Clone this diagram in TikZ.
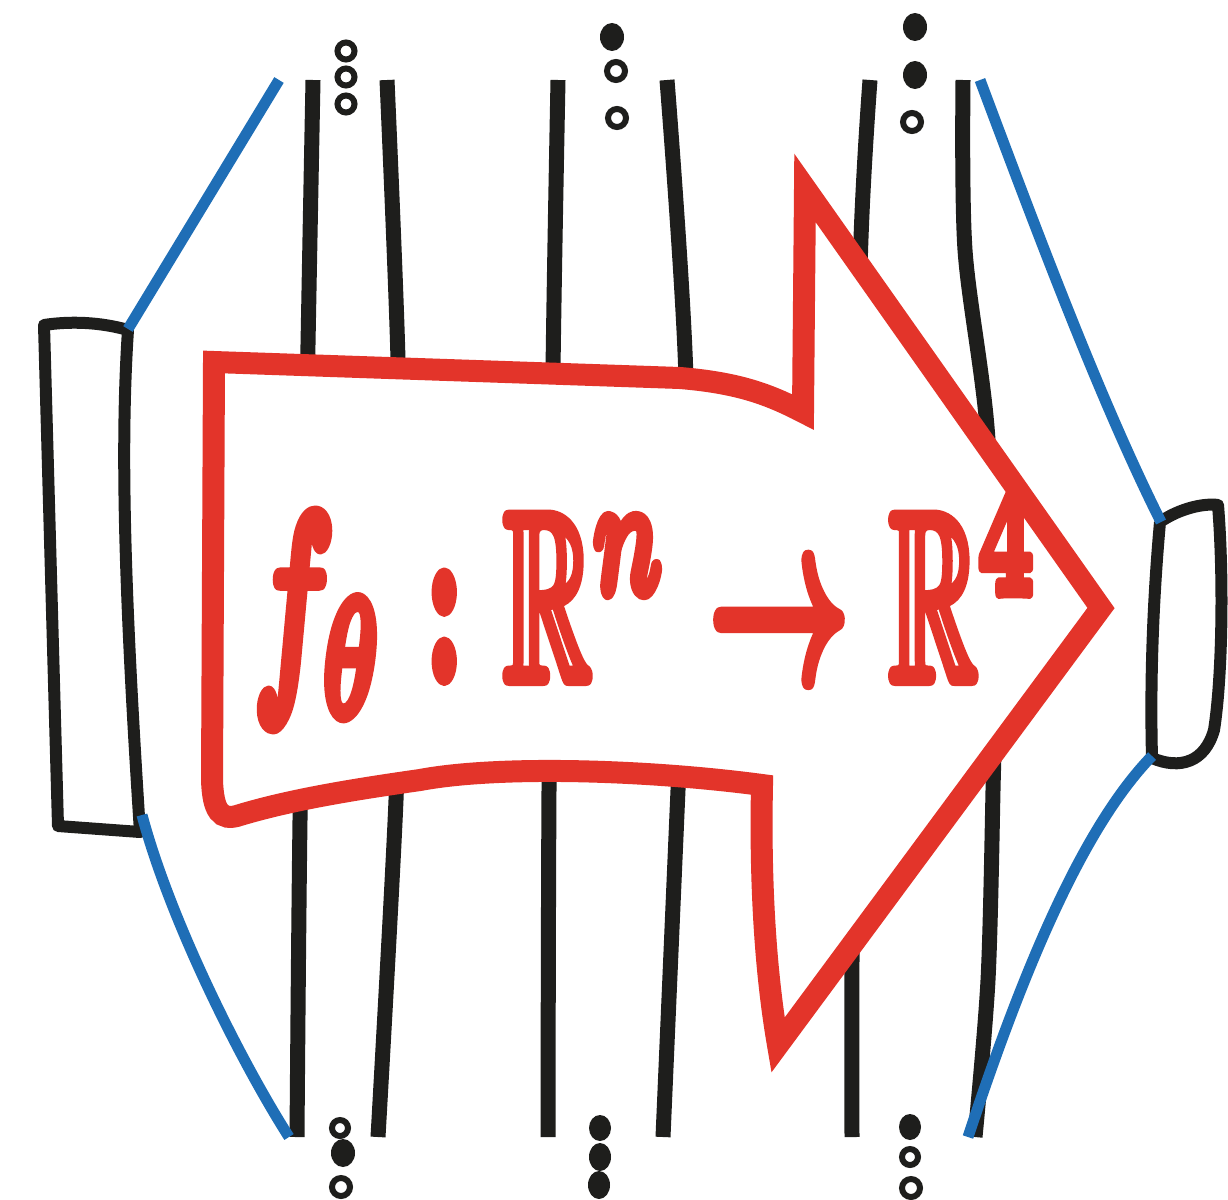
\documentclass[tikz,border=0pt]{standalone}
\usepackage{amssymb}
\definecolor{ink}{HTML}{1E1E1C}
\definecolor{nnblue}{HTML}{1F6EB6}
\definecolor{nnred}{HTML}{E3342A}
\newcommand\strokedtext[1]{\special{pdf:literal direct 2 Tr 0.5 w 1 j}#1\special{pdf:literal direct 0 Tr}}
\begin{document}
\begin{tikzpicture}[x=1pt,y=-1pt,
  layerline/.style={ink,line width=15pt,line cap=butt},
  edge/.style={nnblue,line width=11pt,line cap=butt},
  boxline/.style={ink,line width=12pt,line join=round},
  ring/.style={ink,line width=6pt},
  blob/.style={fill=ink},
  bigarrow/.style={nnred,line width=22pt,line join=miter,fill=white},
  maplabel/.style={text=nnred,inner sep=0pt}]
\useasboundingbox (0,0) rectangle (1228,1199);
% layer lines
\draw[layerline] plot[smooth] coordinates {(313,80) (307,400) (300,820) (297,1137)};
\draw[layerline] plot[smooth] coordinates {(387,80) (398,360) (400,600) (396,800) (378,1137)};
\draw[layerline] plot[smooth] coordinates {(558,80) (553,370) (549,790) (548,1137)};
\draw[layerline] plot[smooth] coordinates {(667,80) (686,380) (682,700) (678,790) (663,1137)};
\draw[layerline] plot[smooth] coordinates {(870,80) (860,270) (855,700) (852,960) (852,1137)};
\draw[layerline] plot[smooth] coordinates {(963,80) (965,250) (988,440) (994,700) (993,790) (988,980) (975,1137)};
% input / output boxes
\coordinate (inTR) at (128,329);
\coordinate (inBR) at (142,815);
\coordinate (outTL) at (1161,522);
\coordinate (outBL) at (1152,756);
\coordinate (topL) at (279,80);
\coordinate (botL) at (289,1137);
\coordinate (topR) at (980,80);
\coordinate (botR) at (968,1137);
\draw[boxline] (44,325) .. controls (70,321) and (100,322) .. (128,330)
  .. controls (120,450) and (125,600) .. (140,832) -- (58,826) -- cycle;
\draw[boxline] (1160,522) .. controls (1180,508) and (1205,503) .. (1218,505)
  .. controls (1224,580) and (1222,680) .. (1214,730)
  .. controls (1205,762) and (1180,770) .. (1152,758)
  .. controls (1150,680) and (1153,600) .. (1160,522);
% blue connections
\draw[edge] (inTR) -- (topL);
\draw[edge] (inBR) .. controls (170,920) and (240,1060) .. (botL);
\draw[edge] (outTL) .. controls (1100,400) and (1040,240) .. (topR);
\draw[edge] (outBL) .. controls (1080,830) and (1020,980) .. (botR);
% big arrow
\draw[bigarrow] (214,362) -- (680,378) .. controls (740,383) and (770,395) .. (803,412)
  -- (805,188) -- (1101,608) -- (778,1045)
  .. controls (765,970) and (760,880) .. (762,785)
  .. controls (650,770) and (500,765) .. (420,780)
  .. controls (350,790) and (290,800) .. (240,815)
  .. controls (220,822) and (213,810) .. (212,780) -- cycle;
\node[maplabel,anchor=base west] (map) at (252,680)
  {\scalebox{12.3}[24]{\strokedtext{\boldmath$f_\theta:\mathbb{R}^n\to\mathbb{R}^4$}}};
% dots, top
\draw[ring] (346,51) circle[radius=8.5];
\draw[ring] (346,77) circle[radius=8.5];
\draw[ring] (346,104) circle[radius=8.5];
\fill[blob] (612,37) ellipse[x radius=12,y radius=14];
\draw[ring] (616,71) circle[radius=9];
\draw[ring] (617,118) circle[radius=9];
\fill[blob] (915,27) ellipse[x radius=12,y radius=14];
\fill[blob] (915,75) ellipse[x radius=12,y radius=14];
\draw[ring] (912,122) circle[radius=9];
% dots, bottom
\draw[ring] (340,1128) circle[radius=8];
\fill[blob] (343,1153) ellipse[x radius=12,y radius=14];
\draw[ring] (341,1187) circle[radius=9];
\fill[blob] (600,1128) ellipse[x radius=11,y radius=13];
\fill[blob] (600,1157) ellipse[x radius=11,y radius=14];
\fill[blob] (599,1185) ellipse[x radius=11,y radius=14];
\fill[blob] (910,1127) ellipse[x radius=11,y radius=13];
\draw[ring] (910,1157) circle[radius=8];
\draw[ring] (911,1188) circle[radius=9];
\end{tikzpicture}
\end{document}
